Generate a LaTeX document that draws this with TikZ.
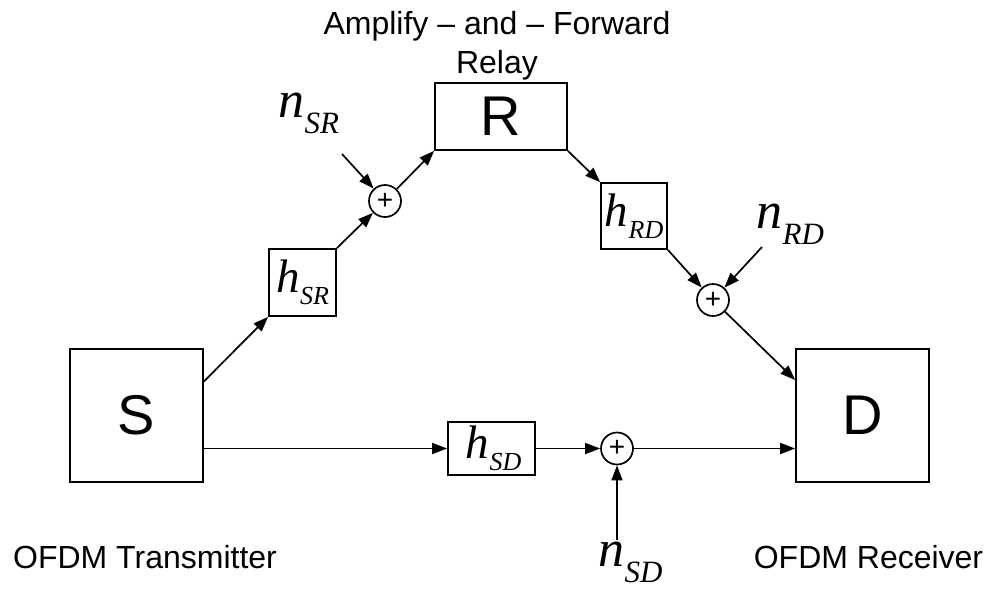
\documentclass[tikz,border=0pt]{standalone}
\usepackage{fontspec}
\setmainfont{Liberation Sans}
\newfontfamily\timesfont{Liberation Serif}
\usetikzlibrary{arrows.meta}
% channel and noise symbols
\newcommand\hsym[1]{{\fontsize{47}{47}\timesfont\itshape h\kern0.5pt\raisebox{-12pt}{\fontsize{26}{26}\selectfont #1}}}
\newcommand\nsym[1]{{\fontsize{52}{52}\timesfont\itshape n\kern0.5pt\raisebox{-16pt}{\fontsize{31}{31}\selectfont #1}}}

\begin{document}
\begin{tikzpicture}[x=1pt,y=-1pt,
    blk/.style={draw,line width=1.7pt,inner sep=0pt},
    term/.style={blk,minimum width=133pt,minimum height=133pt,
      font=\fontsize{56}{56}\selectfont},
    sum/.style={circle,draw,line width=1.7pt,minimum size=32pt,
      inner sep=0pt,font=\fontsize{28}{28}\selectfont},
    arr/.style={-{Triangle[length=15pt,width=11pt]},line width=1.7pt},
    lbl/.style={font=\fontsize{32}{39}\selectfont,align=center}
  ]
    \useasboundingbox (0,0) rectangle (990,590);
    % terminals and relay
    \node[term] (S) at (136.5,415.5) {S};
    \node[term] (D) at (862.5,415.5) {D};
    \node[blk,minimum width=132pt,minimum height=67pt,
      font=\fontsize{56}{56}\selectfont] (R) at (501,116.5) {R};
    \node[lbl] (rtitle) at (497,46) {Amplify -- and -- Forward\\Relay};
    \node[lbl,anchor=base] (tx) at (145,568) {OFDM Transmitter};
    \node[lbl,anchor=base] (rx) at (868.5,568) {OFDM Receiver};

    % channels
    \node[blk,minimum width=67pt,minimum height=67pt] (hsr) at (302.5,282.5) {\hsym{SR}};
    \node[blk,minimum width=66pt,minimum height=66pt] (hrd) at (634,216) {\hsym{RD}};
    \node[blk,minimum width=87pt,minimum height=53pt] (hsd) at (491.5,448.5) {\hspace*{4pt}\hsym{SD}};

    % adders and noise
    \node[sum] (asr) at (385,201) {+};
    \node[sum] (ard) at (713,300) {+};
    \node[sum] (asd) at (617,448.5) {+};
    \node[anchor=base west,inner sep=0pt] (nsr) at (278,117) {\nsym{SR}};
    \node[anchor=base west,inner sep=0pt] (nrd) at (756,228) {\nsym{RD}};
    \node[anchor=base west,inner sep=0pt] (nsd) at (598,566) {\nsym{SD}};
    \coordinate (nsrt) at (342,154);
    \coordinate (nrdt) at (762,247);
    \coordinate (nsdt) at (617,540);

    % relay path
    \draw[arr] ([yshift=34pt]S.east) -- (hsr.south west);
    \draw[arr] (hsr.north east) -- (asr);
    \draw[arr] (nsrt) -- (asr);
    \draw[arr] (asr) -- (R.south west);
    \draw[arr] (R.south east) -- (hrd.north west);
    \draw[arr] (hrd.south east) -- (ard);
    \draw[arr] (nrdt) -- (ard);
    \draw[arr] (ard) -- ([yshift=35.5pt]D.west);
    % direct path
    \draw[arr] (S.east |- hsd) -- (hsd);
    \draw[arr] (hsd) -- (asd);
    \draw[arr] (nsdt) -- (asd);
    \draw[arr] (asd) -- (D.west |- asd);
  \end{tikzpicture}
\end{document}
